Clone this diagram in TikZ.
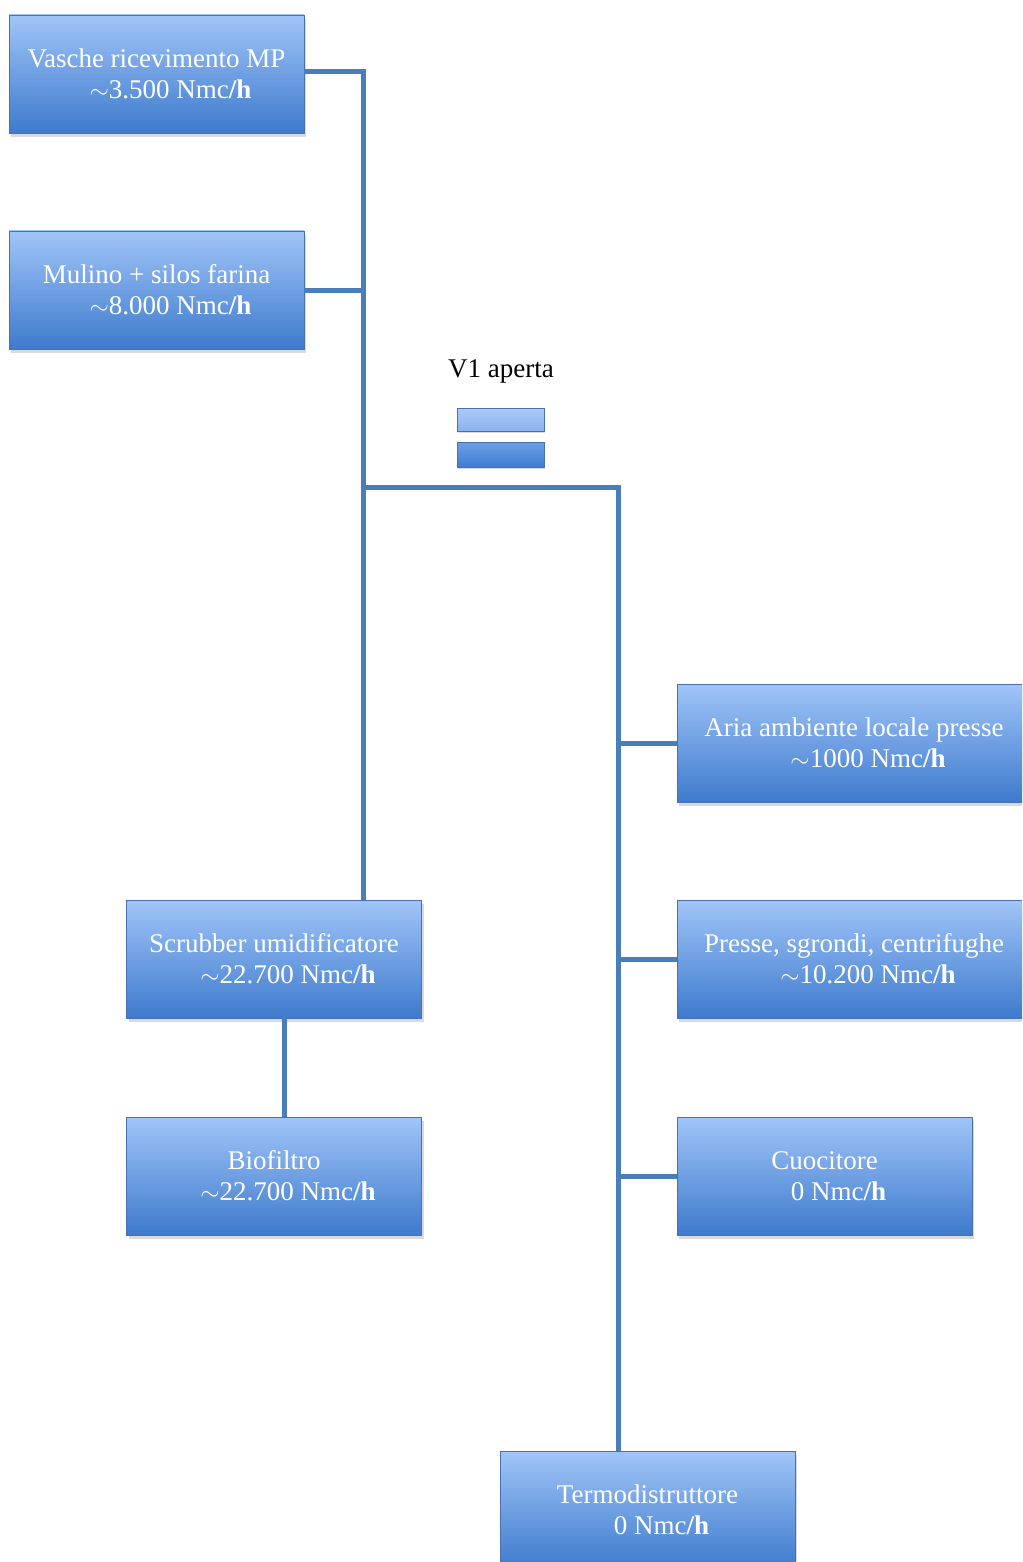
\documentclass[tikz,border=0pt]{standalone}
\usepackage{fontspec}
\setmainfont{Liberation Serif}
\usetikzlibrary{shadows}
\definecolor{boxtop}{RGB}{160,197,248}
\definecolor{boxbot}{RGB}{62,122,205}
\definecolor{boxline}{RGB}{72,112,178}
\definecolor{pipecol}{RGB}{74,126,187}
\definecolor{vtop1}{RGB}{172,202,248}
\definecolor{vtop2}{RGB}{138,178,238}
\definecolor{vbot1}{RGB}{108,158,232}
\definecolor{vbot2}{RGB}{64,124,208}
\tikzset{
  blk/.style={draw=boxline, line width=0.8pt, top color=boxtop, bottom color=boxbot,
    text=white, minimum width=295pt, minimum height=118pt, inner sep=0pt, align=center,
    font=\fontsize{27}{31}\selectfont,
    drop shadow={shadow xshift=2pt, shadow yshift=-4pt, opacity=0.3}},
  wideblk/.style={blk, minimum width=354pt},
  pipeline/.style={draw=pipecol, line width=5pt},
  valvepart/.style={draw=boxline, line width=0.8pt, minimum width=87pt, inner sep=0pt,
    drop shadow={shadow xshift=1pt, shadow yshift=-2pt, opacity=0.3}},
}
\newcommand{\rateline}[1]{\hspace*{28pt}#1 Nmc\textbf{/h}}
\begin{document}
\begin{tikzpicture}[x=1pt,y=1pt]
\useasboundingbox (0,0) rectangle (1022,-1562);
\begin{scope}
\clip (0,0) rectangle (1022,-1562);
% junctions
\coordinate (top) at (363,-72);
\coordinate (j2) at (363,-487);
\coordinate (j3) at (618,-487);

% boxes
\node[blk] (vasche) at (156.5,-74) {Vasche ricevimento MP\\\rateline{$\sim$3.500}};
\node[blk] (mulino) at (156.5,-290) {Mulino + silos farina\\\rateline{$\sim$8.000}};
\node[blk] (scrub) at (274,-959) {Scrubber umidificatore\\\rateline{$\sim$22.700}};
\node[blk] (bio) at (274,-1176) {Biofiltro\\\rateline{$\sim$22.700}};
\node[wideblk] (aria) at (854,-743) {Aria ambiente locale presse\\\rateline{$\sim$1000}};
\node[wideblk] (presse) at (854,-959) {Presse, sgrondi, centrifughe\\\rateline{$\sim$10.200}};
\node[blk] (cuoc) at (824.5,-1176) {Cuocitore\\\rateline{0}};
\node[blk] (termo) at (647.5,-1510) {Termodistruttore\\\rateline{0}};

% valve
\node[font=\fontsize{27}{31}\selectfont, anchor=base] (v1lbl) at (501,-377) {V1 aperta};
\node[valvepart, minimum height=23pt, top color=vtop1, bottom color=vtop2] (v1a) at (500.5,-419.5) {};
\node[valvepart, minimum height=25pt, top color=vbot1, bottom color=vbot2] (v1b) at (500.5,-454.5) {};

% connectors
\draw[pipeline] (vasche.east |- top) -- (top) -- (top |- scrub.north);
\draw[pipeline] (mulino.east) -- (mulino.east -| top);
\draw[pipeline] (j2) -- (j3) -- (j3 |- termo.north);
\draw[pipeline] (aria.west) -- (aria.west -| j3);
\draw[pipeline] (presse.west) -- (presse.west -| j3);
\draw[pipeline] (cuoc.west) -- (cuoc.west -| j3);
\draw[pipeline] ([xshift=10pt]scrub.south) -- ([xshift=10pt]bio.north);
\end{scope}
\end{tikzpicture}
\end{document}
